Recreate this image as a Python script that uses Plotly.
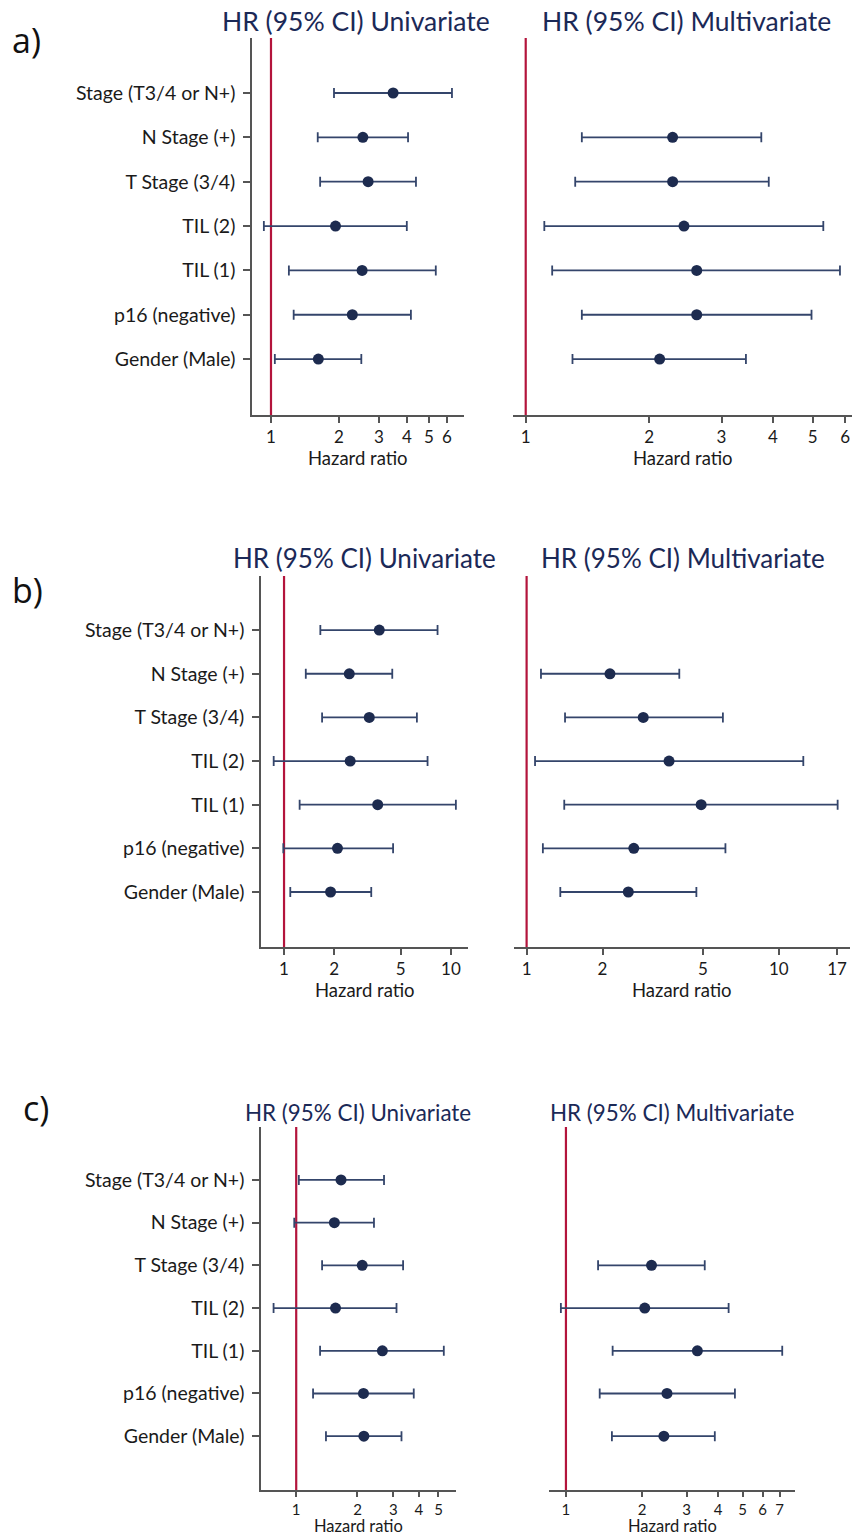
import math
import plotly.graph_objects as go

W, H = 855, 1535

labels = ["Stage (T3/4 or N+)", "N Stage (+)", "T Stage (3/4)", "TIL (2)",
          "TIL (1)", "p16 (negative)", "Gender (Male)"]

# Panel a
a_uni_lab = labels
a_uni_hr = [3.47, 2.55, 2.69, 1.93, 2.53, 2.29, 1.62]
a_uni_lo = [1.90, 1.61, 1.65, 0.93, 1.20, 1.26, 1.04]
a_uni_hi = [6.32, 4.04, 4.38, 3.99, 5.36, 4.16, 2.51]
a_multi_lab = labels[1:]
a_multi_hr = [2.28, 2.28, 2.43, 2.61, 2.61, 2.12]
a_multi_lo = [1.37, 1.32, 1.11, 1.16, 1.37, 1.30]
a_multi_hi = [3.75, 3.91, 5.31, 5.83, 4.97, 3.44]

# Panel b
b_uni_lab = labels
b_uni_hr = [3.72, 2.46, 3.24, 2.49, 3.64, 2.09, 1.90]
b_uni_lo = [1.65, 1.35, 1.69, 0.867, 1.24, 0.99, 1.09]
b_uni_hi = [8.31, 4.45, 6.25, 7.24, 10.7, 4.50, 3.33]
b_multi_lab = labels[1:]
b_multi_hr = [2.14, 2.90, 3.67, 4.92, 2.66, 2.53]
b_multi_lo = [1.14, 1.42, 1.08, 1.41, 1.16, 1.36]
b_multi_hi = [4.03, 6.00, 12.5, 17.1, 6.14, 4.71]

# Panel c
c_uni_lab = labels
c_uni_hr = [1.66, 1.54, 2.11, 1.56, 2.65, 2.14, 2.15]
c_uni_lo = [1.03, 0.978, 1.34, 0.774, 1.31, 1.21, 1.40]
c_uni_hi = [2.70, 2.41, 3.35, 3.11, 5.31, 3.78, 3.29]
c_multi_lab = labels[2:]
c_multi_hr = [2.18, 2.05, 3.31, 2.51, 2.44]
c_multi_lo = [1.34, 0.955, 1.53, 1.36, 1.52]
c_multi_hi = [3.54, 4.40, 7.17, 4.66, 3.88]

a_uni_ticks = [1, 2, 3, 4, 5, 6]
a_multi_ticks = [1, 2, 3, 4, 5, 6]
b_uni_ticks = [1, 2, 5, 10]
b_multi_ticks = [1, 2, 5, 10, 17]
c_uni_ticks = [1, 2, 3, 4, 5]
c_multi_ticks = [1, 2, 3, 4, 5, 6, 7]

title_uni = "HR (95% CI) Univariate"
title_multi = "HR (95% CI) Multivariate"
xlab = "Hazard ratio"

NAVY = "#1d2b4f"
BAR = "#34456b"
RED = "#b3143c"
AX = "#555555"
TXT = "#1a1a1a"
FONT = "Lato"

panels = [
    dict(lab=a_uni_lab, hr=a_uni_hr, lo=a_uni_lo, hi=a_uni_hi, ticks=a_uni_ticks,
         px=(252, 464, 38, 415), xr=(-0.084, 0.854), uni=True,
         title=title_uni, tpos=(356, 21), tsize=26.5, tick=17, tl=6, xly=458, xls=18.5),
    dict(lab=a_multi_lab, hr=a_multi_hr, lo=a_multi_lo, hi=a_multi_hi, ticks=a_multi_ticks,
         px=(513, 852, 38, 415), xr=(-0.031, 0.795), uni=False,
         title=title_multi, tpos=(686, 21), tsize=26.5, tick=17, tl=6, xly=458, xls=18.5),
    dict(lab=b_uni_lab, hr=b_uni_hr, lo=b_uni_lo, hi=b_uni_hi, ticks=b_uni_ticks,
         px=(261, 468, 576, 947), xr=(-0.138, 1.102), uni=True,
         title=title_uni, tpos=(364, 558), tsize=26, tick=17, tl=6, xly=990, xls=18.5),
    dict(lab=b_multi_lab, hr=b_multi_hr, lo=b_multi_lo, hi=b_multi_hi, ticks=b_multi_ticks,
         px=(514, 850, 576, 947), xr=(-0.050, 1.282), uni=False,
         title=title_multi, tpos=(683, 558), tsize=26, tick=17, tl=6, xly=990, xls=18.5),
    dict(lab=c_uni_lab, hr=c_uni_hr, lo=c_uni_lo, hi=c_uni_hi, ticks=c_uni_ticks,
         px=(261, 456, 1127, 1490), xr=(-0.173, 0.785), uni=True,
         title=title_uni, tpos=(358, 1112), tsize=22.4, tick=15, tl=5, xly=1525.5, xls=16.5),
    dict(lab=c_multi_lab, hr=c_multi_hr, lo=c_multi_lo, hi=c_multi_hi, ticks=c_multi_ticks,
         px=(549, 795, 1127, 1490), xr=(-0.067, 0.906), uni=False,
         title=title_multi, tpos=(672, 1112), tsize=22.4, tick=15, tl=5, xly=1525.5, xls=16.5),
]

YR = (-1.26, 7.24)
n = len(labels)

fig = go.Figure()
annotations = []

for i, p in enumerate(panels):
    k = "" if i == 0 else str(i + 1)
    xa, ya = "x" + k, "y" + k
    x0, x1, yt, yb = p["px"]
    ypos = [n - 1 - labels.index(l) for l in p["lab"]]
    fig.add_trace(go.Scatter(x=[1, 1], y=list(YR), mode="lines",
                             line=dict(color=RED, width=2.2), xaxis=xa, yaxis=ya,
                             showlegend=False, hoverinfo="skip"))
    fig.add_trace(go.Scatter(
        x=p["hr"], y=ypos, mode="markers",
        marker=dict(color=NAVY, size=11),
        error_x=dict(type="data", symmetric=False,
                     array=[h - m for h, m in zip(p["hi"], p["hr"])],
                     arrayminus=[m - l for m, l in zip(p["hr"], p["lo"])],
                     color=BAR, thickness=1.8, width=5),
        xaxis=xa, yaxis=ya, showlegend=False, cliponaxis=False))
    xaxis = dict(domain=[x0 / W, x1 / W], type="log", range=list(p["xr"]),
                 anchor=ya, showline=True, linecolor=AX, linewidth=1.5,
                 ticks="outside", ticklen=p["tl"], tickcolor=AX, tickwidth=1.5,
                 tickvals=p["ticks"], ticktext=[str(t) for t in p["ticks"]],
                 tickfont=dict(family=FONT, size=p["tick"], color=TXT),
                 showgrid=False, zeroline=False)
    yaxis = dict(domain=[1 - yb / H, 1 - yt / H], range=list(YR), anchor=xa,
                 showgrid=False, zeroline=False)
    if p["uni"]:
        yaxis.update(showline=True, linecolor=AX, linewidth=1.5, ticks="outside",
                     ticklen=7, tickcolor=AX, tickwidth=1.5,
                     tickvals=list(range(n)), ticktext=labels[::-1],
                     tickfont=dict(family=FONT, size=19.5, color=TXT),
                     ticklabelstandoff=4)
    else:
        yaxis.update(showline=False, showticklabels=False, ticks="")
    fig.update_layout(**{"xaxis" + k: xaxis, "yaxis" + k: yaxis})
    annotations.append(dict(text=p["title"], x=p["tpos"][0] / W, y=1 - p["tpos"][1] / H,
                            xref="paper", yref="paper", xanchor="center", yanchor="middle",
                            showarrow=False,
                            font=dict(family=FONT, size=p["tsize"], color="#1b2957")))
    annotations.append(dict(text=xlab, x=0.5, y=1 - p["xly"] / H,
                            xref=xa + " domain", yref="paper", xanchor="center",
                            yanchor="middle", showarrow=False,
                            font=dict(family=FONT, size=p["xls"], color=TXT)))

for txt, xp, yp in [("a)", 26, 40), ("b)", 27, 590), ("c)", 36, 1108)]:
    annotations.append(dict(text=txt, x=xp / W, y=1 - yp / H, xref="paper", yref="paper",
                            xanchor="center", yanchor="middle", showarrow=False,
                            font=dict(family="Open Sans", size=34, color="#111111")))

fig.update_layout(width=W, height=H, margin=dict(l=0, r=0, t=0, b=0),
                  paper_bgcolor="white", plot_bgcolor="white",
                  annotations=annotations)

fig.write_html("out.html")
